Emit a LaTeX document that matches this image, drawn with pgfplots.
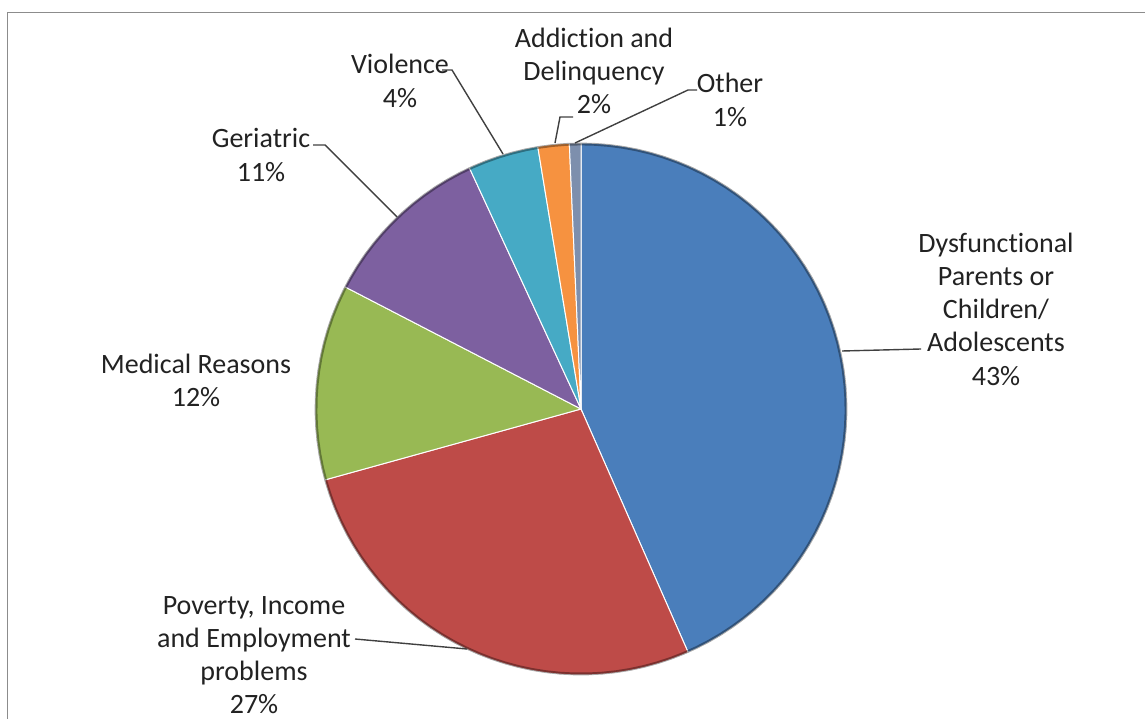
\documentclass[border=0pt]{standalone}
\usepackage{pgfplots}
\pgfplotsset{compat=1.18}
\usepackage{fontspec}
\setmainfont{Carlito}[Ligatures={NoCommon}]
\definecolor{cBlue}{HTML}{4A7EBB}
\definecolor{cRed}{HTML}{BE4B48}
\definecolor{cGreen}{HTML}{98B954}
\definecolor{cPurple}{HTML}{7D60A0}
\definecolor{cAqua}{HTML}{46AAC5}
\definecolor{cOrange}{HTML}{F69240}
\definecolor{cOther}{HTML}{7D8FAD}
\definecolor{txt}{HTML}{222222}
\definecolor{lead}{HTML}{404040}
\tikzset{lbl/.style={font=\fontsize{14pt}{16.6pt}\selectfont, text=txt, align=center, inner sep=0pt}}
\begin{document}
\begin{tikzpicture}
\useasboundingbox (0,0) rectangle (572.5pt,359pt);
\begin{axis}[
  scale only axis, width=572.5pt, height=359pt,
  xmin=0, xmax=1145, ymin=0, ymax=718,
  hide axis, clip=false,
]
% frame
\draw[color=black!45, line width=0.8pt] (7.5,-20) -- (7.5,705.5) -- (1160,705.5);
% slices: domain = cumulative share (percent), clockwise from 12 o'clock
\addplot[fill=cBlue, draw=white, line width=0.5pt, domain=0:43.4, samples=80]
  ({581+266*sin(3.6*x)},{309+266*cos(3.6*x)}) -- (581,309) -- cycle;
\addplot[fill=cRed, draw=white, line width=0.5pt, domain=43.4:70.7, samples=60]
  ({581+266*sin(3.6*x)},{309+266*cos(3.6*x)}) -- (581,309) -- cycle;
\addplot[fill=cGreen, draw=white, line width=0.5pt, domain=70.7:82.6, samples=30]
  ({581+266*sin(3.6*x)},{309+266*cos(3.6*x)}) -- (581,309) -- cycle;
\addplot[fill=cPurple, draw=white, line width=0.5pt, domain=82.6:93.1, samples=30]
  ({581+266*sin(3.6*x)},{309+266*cos(3.6*x)}) -- (581,309) -- cycle;
\addplot[fill=cAqua, draw=white, line width=0.5pt, domain=93.1:97.4, samples=15]
  ({581+266*sin(3.6*x)},{309+266*cos(3.6*x)}) -- (581,309) -- cycle;
\addplot[fill=cOrange, draw=white, line width=0.5pt, domain=97.4:99.3, samples=10]
  ({581+266*sin(3.6*x)},{309+266*cos(3.6*x)}) -- (581,309) -- cycle;
\addplot[fill=cOther, draw=white, line width=0.5pt, domain=99.3:100, samples=5]
  ({581+266*sin(3.6*x)},{309+266*cos(3.6*x)}) -- (581,309) -- cycle;
% rim
\addplot[draw=black, draw opacity=0.35, line width=1.4pt, domain=0:100, samples=120]
  ({581+265*sin(3.6*x)},{309+265*cos(3.6*x)});
% leader lines
\draw[lead, line width=0.7pt] (842,367) -- (921,369);
\draw[lead, line width=0.7pt] (355,79) -- (467,69);
\draw[lead, line width=0.7pt] (313,573) -- (325,573) -- (397,501);
\draw[lead, line width=0.7pt] (442,648) -- (452,648) -- (503,564);
\draw[lead, line width=0.7pt] (573,601) -- (560,601) -- (555,575);
\draw[lead, line width=0.7pt] (575,575) -- (688,628) -- (697,628);
% labels
\node[lbl] at (996,409) {Dysfunctional\\Parents or\\Children/\\Adolescents\\43\%};
\node[lbl] at (254,63) {Poverty, Income\\and Employment\\problems\\27\%};
\node[lbl] at (196,338) {Medical Reasons\\12\%};
\node[lbl] at (261,563) {Geriatric\\11\%};
\node[lbl] at (400,637) {Violence\\4\%};
\node[lbl] at (594,647) {Addiction and\\Delinquency\\2\%};
\node[lbl] at (730,618) {Other\\1\%};
\end{axis}
\end{tikzpicture}
\end{document}
